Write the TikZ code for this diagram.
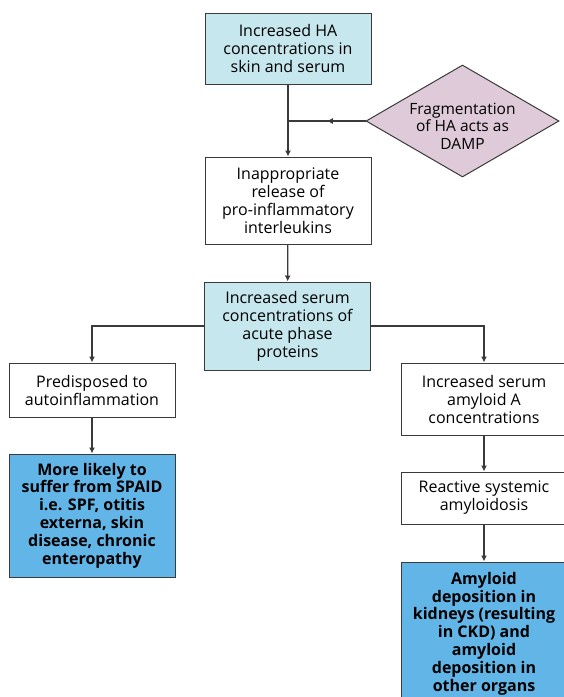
\documentclass[tikz,border=0pt]{standalone}
\usepackage{fontspec}
\setmainfont{Open Sans}
\usepackage{tikz}
\usetikzlibrary{arrows.meta,shapes.geometric,decorations.markings}
\definecolor{paleblue}{HTML}{C6E7EE}
\definecolor{palepink}{HTML}{DFCAD9}
\definecolor{deepblue}{HTML}{62B6E7}
\definecolor{edgegray}{HTML}{3A3A3A}

\begin{document}
\begin{tikzpicture}[x=1pt,y=1pt,
    box/.style={draw=edgegray, line width=1pt, rectangle, align=center, inner sep=1pt,
                minimum width=166pt, font=\fontsize{16}{18}\selectfont},
    keybox/.style={box, fill=paleblue},
    endbox/.style={box, fill=deepblue, font=\fontsize{16}{17.8}\selectfont\bfseries},
    link/.style={draw=edgegray, line width=1.2pt, -{Latex[length=6pt,width=6pt]}},
    midlink/.style={draw=edgegray, line width=1.2pt, decoration={markings,
                    mark=at position 0.5 with {\arrow{Latex[length=6pt,width=6pt]}}},
                    postaction={decorate}}]
    \useasboundingbox (0,0) rectangle (563,-697);

    % Main column
    \node[keybox, minimum height=71pt] (ha) at (288,-48.5)
        {Increased HA\\concentrations in\\skin and serum};
    \node[box, minimum height=87pt] (il) at (288,-200.5)
        {Inappropriate\\release of\\pro-inflammatory\\interleukins};
    \node[keybox, minimum height=88pt] (app) at (287.5,-326)
        {Increased serum\\concentrations of\\acute phase\\proteins};

    % Side input (text set as a centred label so the diamond keeps its size)
    \node[diamond, draw=edgegray, line width=1pt, fill=palepink, inner sep=0pt,
          minimum width=193pt, minimum height=112pt,
          label={[align=center, yshift=-5pt, font=\fontsize{15.5}{17.5}\selectfont]center:Fragmentation\\of HA acts as\\DAMP}]
          (frag) at (462.5,-121) {};
    \coordinate (join) at (ha.south |- frag.west);

    % Left branch
    \node[box, minimum height=54pt] (auto) at (92,-390)
        {Predisposed to\\autoinflammation};
    \node[endbox, minimum height=123pt] (spaid) at (92,-515.5)
        {More likely to\\suffer from SPAID\\i.e. SPF, otitis\\externa, skin\\disease, chronic\\enteropathy};

    % Right branch
    \node[box, minimum height=72pt] (saa) at (484,-399)
        {Increased serum\\amyloid A\\concentrations};
    \node[box, minimum height=52pt] (rsa) at (484,-498)
        {Reactive systemic\\amyloidosis};
    \node[endbox, minimum height=143pt] (amy) at (484,-633.5)
        {Amyloid\\deposition in\\kidneys (resulting\\in CKD) and\\amyloid\\deposition in\\other organs};

    % Connectors
    \draw[link] (ha) -- (il);
    \draw[midlink] (frag.west) -- (join);
    \draw[link] (il) -- (app);
    \draw[link] (app.west) -| (auto.north);
    \draw[link] (app.east) -| (saa.north);
    \draw[link] (auto) -- (spaid);
    \draw[link] (saa) -- (rsa);
    \draw[link] (rsa) -- (amy);
\end{tikzpicture}
\end{document}
